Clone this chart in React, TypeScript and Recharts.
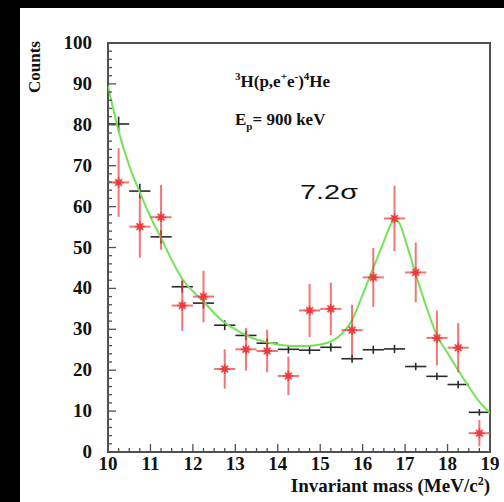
import {
  ComposedChart,
  ErrorBar,
  Line,
  ReferenceArea,
  Scatter,
  XAxis,
  YAxis,
} from "recharts";

// bin centres, 0.5 MeV/c^2 wide
const BIN_CENTERS = [
  10.25, 10.75, 11.25, 11.75, 12.25, 12.75, 13.25, 13.75, 14.25, 14.75, 15.25,
  15.75, 16.25, 16.75, 17.25, 17.75, 18.25, 18.75,
];
// black crosses (simulated background)
const BG_COUNTS = [
  80.2, 63.8, 52.6, 40.4, 36.4, 31.0, 28.5, 26.6, 25.1, 24.9, 25.6, 22.8, 25.0,
  25.2, 20.9, 18.5, 16.5, 9.7,
];
const BG_ERR = [
  1.8, 1.8, 1.6, 1.4, 1.3, 1.2, 1.1, 1.1, 1.0, 1.0, 1.0, 1.0, 1.0, 1.0, 0.9, 0.9,
  0.9, 0.8,
];
// red points (measured)
const DATA_COUNTS = [
  65.9, 55.1, 57.4, 35.8, 38.0, 20.3, 25.1, 24.7, 18.6, 34.6, 35.0, 29.8, 42.7,
  57.1, 43.9, 27.9, 25.5, 4.6,
];
const DATA_ERR = [
  8.4, 7.6, 7.9, 6.2, 6.3, 4.8, 5.2, 5.2, 4.7, 6.5, 6.4, 6.2, 7.2, 8.0, 7.3, 6.7,
  6.0, 3.2,
];
// green fit
const FIT_X = [
  10, 10.25, 10.5, 10.75, 11, 11.25, 11.5, 11.75, 12, 12.25, 12.5, 12.75, 13,
  13.25, 13.5, 13.75, 14, 14.25, 14.5, 14.75, 15, 15.25, 15.5, 15.75, 16, 16.25,
  16.5, 16.625, 16.75, 16.875, 17, 17.25, 17.5, 17.75, 18, 18.25, 18.5, 18.75,
  19,
];
const FIT_Y = [
  89.5, 78.5, 70, 63.5, 57.5, 52.3, 47, 42.3, 39.3, 36.8, 34, 31.6, 30, 28.6,
  27.5, 26.8, 26.3, 26.0, 25.9, 26.0, 26.3, 27, 28.8, 32.2, 38.5, 45, 51.5, 54.8,
  56.8, 55.8, 52, 43.5, 35.5, 28.5, 24.2, 20, 16, 12.3, 9.5,
];

const X_MAJOR = [10, 11, 12, 13, 14, 15, 16, 17, 18, 19];
const Y_MAJOR = [0, 10, 20, 30, 40, 50, 60, 70, 80, 90, 100];

const xTicks: number[] = [];
for (let v = 10; v <= 19; v += 0.25) xTicks.push(v);
const yTicks: number[] = [];
for (let v = 0; v <= 100; v += 2) yTicks.push(v);

const bgData = BIN_CENTERS.map((x, i) => ({
  x,
  y: BG_COUNTS[i],
  ex: 0.25,
  ey: BG_ERR[i],
}));
const measData = BIN_CENTERS.map((x, i) => ({
  x,
  y: DATA_COUNTS[i],
  ex: 0.25,
  ey: DATA_ERR[i],
}));
const fitData = FIT_X.map((x, i) => ({ x, y: FIT_Y[i] }));

const SERIF = "'Liberation Serif', 'Times New Roman', serif";
const AXIS_COLOR = "#505050";
const RED = "#ee3b3b";
const Y_GAP = 16;
const X_GAP = 4;

function renderYTick(props: any) {
  const { x, y, payload } = props;
  const v = payload.value;
  const major = Y_MAJOR.includes(v);
  const ax = x + Y_GAP;
  return (
    <g key={`y-${v}`}>
      <line x1={ax} x2={ax + (major ? 8 : 4)} y1={y} y2={y} stroke={AXIS_COLOR} strokeWidth={1.3} />
      {major && (
        <text x={x} y={y} dy={6} textAnchor="end" fontFamily={SERIF} fontWeight="bold" fontSize={19} fill="#111">
          {v}
        </text>
      )}
    </g>
  );
}

function renderXTick(props: any) {
  const { x, y, payload } = props;
  const v = payload.value;
  const major = X_MAJOR.includes(v);
  const ay = y - X_GAP;
  return (
    <g key={`x-${v}`}>
      <line x1={x} x2={x} y1={ay} y2={ay - (major ? 8 : 4)} stroke={AXIS_COLOR} strokeWidth={1.3} />
      {major && (
        <text x={x} y={y} dy={14} textAnchor="middle" fontFamily={SERIF} fontWeight="bold" fontSize={19} fill="#111">
          {v}
        </text>
      )}
    </g>
  );
}

const noMark = () => <g />;

function StarMark(props: any) {
  const { cx, cy } = props;
  const r = 5;
  const d = 3.4;
  return (
    <g stroke={RED} strokeWidth={1.8} strokeOpacity={0.85}>
      <line x1={cx - r} x2={cx + r} y1={cy} y2={cy} />
      <line x1={cx} x2={cx} y1={cy - r} y2={cy + r} />
      <line x1={cx - d} x2={cx + d} y1={cy - d} y2={cy + d} />
      <line x1={cx - d} x2={cx + d} y1={cy + d} y2={cy - d} />
      <rect x={cx - 2.5} y={cy - 2.5} width={5} height={5} fill={RED} stroke="none" />
    </g>
  );
}

export default function App() {
  return (
    <div style={{ position: "relative", width: 504, height: 502, background: "#000", overflow: "hidden" }}>
      <style>{`body{margin:0}`}</style>
      <div style={{ position: "absolute", left: 20, top: 8, width: 484, height: 494, background: "#fff" }} />
      <div style={{ position: "absolute", left: 0, top: 0 }}>
        <ComposedChart
          width={504}
          height={502}
          margin={{ top: 43, right: 14, bottom: 20, left: 48 }}
        >
          <XAxis
            type="number"
            dataKey="x"
            domain={[10, 19]}
            ticks={xTicks}
            interval={0}
            height={30}
            tickSize={0}
            tickMargin={X_GAP}
            axisLine={false}
            tickLine={false}
            tick={renderXTick}
            allowDataOverflow
          />
          <YAxis
            type="number"
            dataKey="y"
            domain={[0, 100]}
            ticks={yTicks}
            interval={0}
            width={60}
            tickSize={0}
            tickMargin={Y_GAP}
            axisLine={false}
            tickLine={false}
            tick={renderYTick}
            allowDataOverflow
          />
          <ReferenceArea
            x1={10}
            x2={19}
            y1={0}
            y2={100}
            fill="none"
            fillOpacity={0}
            stroke={AXIS_COLOR}
            strokeWidth={2}
            ifOverflow="visible"
          />
          <Scatter data={bgData} dataKey="y" shape={noMark} isAnimationActive={false}>
            <ErrorBar dataKey="ex" direction="x" width={0} stroke="#2a2a2a" strokeWidth={1.6} isAnimationActive={false} />
            <ErrorBar dataKey="ey" direction="y" width={0} stroke="#2a2a2a" strokeWidth={1.6} isAnimationActive={false} />
          </Scatter>
          <Line
            data={fitData}
            dataKey="y"
            type="monotone"
            stroke="#72e356"
            strokeWidth={2}
            dot={false}
            activeDot={false}
            isAnimationActive={false}
          />
          <Scatter data={measData} dataKey="y" shape={<StarMark />} isAnimationActive={false}>
            <ErrorBar dataKey="ex" direction="x" width={0} stroke={RED} strokeOpacity={0.7} strokeWidth={2} isAnimationActive={false} />
            <ErrorBar dataKey="ey" direction="y" width={0} stroke={RED} strokeOpacity={0.7} strokeWidth={2} isAnimationActive={false} />
          </Scatter>
        </ComposedChart>
      </div>
      <svg
        width={504}
        height={502}
        style={{ position: "absolute", left: 0, top: 0, pointerEvents: "none" }}
      >
        <text
          transform="translate(40,67) rotate(-90)"
          textAnchor="middle"
          fontFamily={SERIF}
          fontWeight="bold"
          fontSize={17}
          fill="#111"
        >
          Counts
        </text>
        <text x={490} y={492} textAnchor="end" fontFamily={SERIF} fontWeight="bold" fontSize={19} fill="#111">
          Invariant mass (MeV/c<tspan dy={-7} fontSize={12}>2</tspan>
          <tspan dy={7}>)</tspan>
        </text>
        <text x={235} y={87} fontFamily={SERIF} fontWeight="bold" fontSize={17} fill="#111">
          <tspan dy={-7} fontSize={11}>3</tspan>
          <tspan dy={7}>H(p,e</tspan>
          <tspan dy={-7} fontSize={11}>+</tspan>
          <tspan dy={7}>e</tspan>
          <tspan dy={-7} fontSize={11}>-</tspan>
          <tspan dy={7}>)</tspan>
          <tspan dy={-7} fontSize={11}>4</tspan>
          <tspan dy={7}>He</tspan>
        </text>
        <text x={235} y={125} fontFamily={SERIF} fontWeight="bold" fontSize={17} fill="#111">
          E<tspan dy={5} fontSize={11}>p</tspan>
          <tspan dy={-5}>= 900 keV</tspan>
        </text>
        <text
          x={300}
          y={199}
          fontFamily="'Liberation Sans', Arial, sans-serif"
          fontSize={21}
          fill="#111"
          textLength={58}
          lengthAdjust="spacingAndGlyphs"
        >
          7.2σ
        </text>
      </svg>
    </div>
  );
}
